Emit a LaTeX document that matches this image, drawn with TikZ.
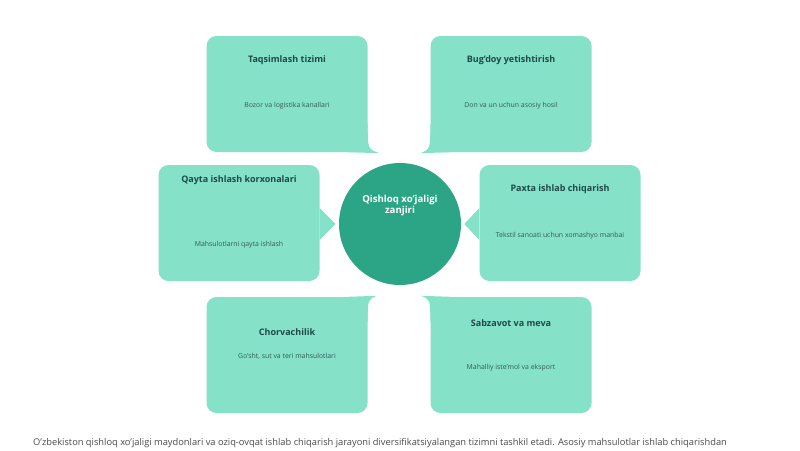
\documentclass[tikz,border=0pt]{standalone}
\usepackage{fontspec}
\setmainfont{Open Sans}
\definecolor{cardfill}{HTML}{86E1C9}
\definecolor{hubfill}{HTML}{2BA585}
\definecolor{headtext}{HTML}{1C4A48}
\definecolor{bodytext}{HTML}{2E5C58}
\definecolor{notetext}{HTML}{4A4A4A}
\begin{document}
\begin{tikzpicture}[x=1pt,y=-1pt]
	\tikzstyle{card}=[rectangle, rounded corners=10pt, fill=cardfill, minimum width=161pt, minimum height=116pt, inner sep=0pt]
	\tikzstyle{hub}=[circle, fill=hubfill, minimum size=122pt, inner sep=0pt]
	\tikzstyle{head}=[font=\bfseries\fontsize{9}{11}\selectfont, text=headtext]
	\tikzstyle{body}=[font=\fontsize{6.9}{8}\selectfont, text=bodytext]
	\useasboundingbox[fill=white] (0,0) rectangle (800,450);

	% cards
	\node[card] (tq) at (287,94) {};
	\node[card] (bd) at (511,94) {};
	\node[card] (qi) at (239,223) {};
	\node[card] (px) at (560,223) {};
	\node[card] (ch) at (287,355) {};
	\node[card] (sm) at (511,355) {};

	% tails towards the hub
	\fill[cardfill] ([yshift=28pt]tq.south east) .. controls ([yshift=3pt]tq.south east) .. ([xshift=12pt,yshift=-1pt]tq.south east) -- ([xshift=-20pt]tq.south east) -- cycle;
	\fill[cardfill] ([yshift=28pt]bd.south west) .. controls ([yshift=3pt]bd.south west) .. ([xshift=-10pt,yshift=-1pt]bd.south west) -- ([xshift=20pt]bd.south west) -- cycle;
	\fill[cardfill] ([yshift=-25pt]ch.north east) .. controls ([yshift=-3pt]ch.north east) .. ([xshift=9pt,yshift=1pt]ch.north east) -- ([xshift=-20pt]ch.north east) -- cycle;
	\fill[cardfill] ([yshift=-25pt]sm.north west) .. controls ([yshift=-3pt]sm.north west) .. ([xshift=-9pt,yshift=1pt]sm.north west) -- ([xshift=20pt]sm.north west) -- cycle;
	\fill[cardfill] ([yshift=15pt]qi.east) -- ([xshift=16pt,yshift=-1pt]qi.east) -- ([yshift=-17pt]qi.east) -- cycle;
	\fill[cardfill] ([yshift=15pt]px.west) -- ([xshift=-15pt,yshift=-1pt]px.west) -- ([yshift=-17pt]px.west) -- cycle;

	% hub
	\node[hub] (hub) at (400,224) {};
	\node[font=\bfseries\fontsize{9.6}{11}\selectfont, text=white, align=center] (hub-text) at (400,206) {Qishloq xo'jaligi\\zanjiri};

	% card texts
	\node[head] (tq-head) at (287,60) {Taqsimlash tizimi};
	\node[body] (tq-body) at (287,106) {Bozor va logistika kanallari};
	\node[head] (bd-head) at (511,60) {Bug'doy yetishtirish};
	\node[body] (bd-body) at (511,106) {Don va un uchun asosiy hosil};
	\node[head] (qi-head) at (239,180) {Qayta ishlash korxonalari};
	\node[body] (qi-body) at (239,245) {Mahsulotlarni qayta ishlash};
	\node[head] (px-head) at (560,189) {Paxta ishlab chiqarish};
	\node[body] (px-body) at (560,236) {Tekstil sanoati uchun xomashyo manbai};
	\node[head] (ch-head) at (287,332) {Chorvachilik};
	\node[body] (ch-body) at (287,356) {Go'sht, sut va teri mahsulotlari};
	\node[head] (sm-head) at (511,323) {Sabzavot va meva};
	\node[body] (sm-body) at (511,368) {Mahalliy iste'mol va eksport};

	% caption line
	\node[anchor=west, inner sep=0pt, font=\fontsize{9.3}{11}\selectfont, text=notetext] (note) at (33,443) {O'zbekiston qishloq xo'jaligi maydonlari va oziq-ovqat ishlab chiqarish jarayoni diversifikatsiyalangan tizimni tashkil etadi. Asosiy mahsulotlar ishlab chiqarishdan};
\end{tikzpicture}
\end{document}
